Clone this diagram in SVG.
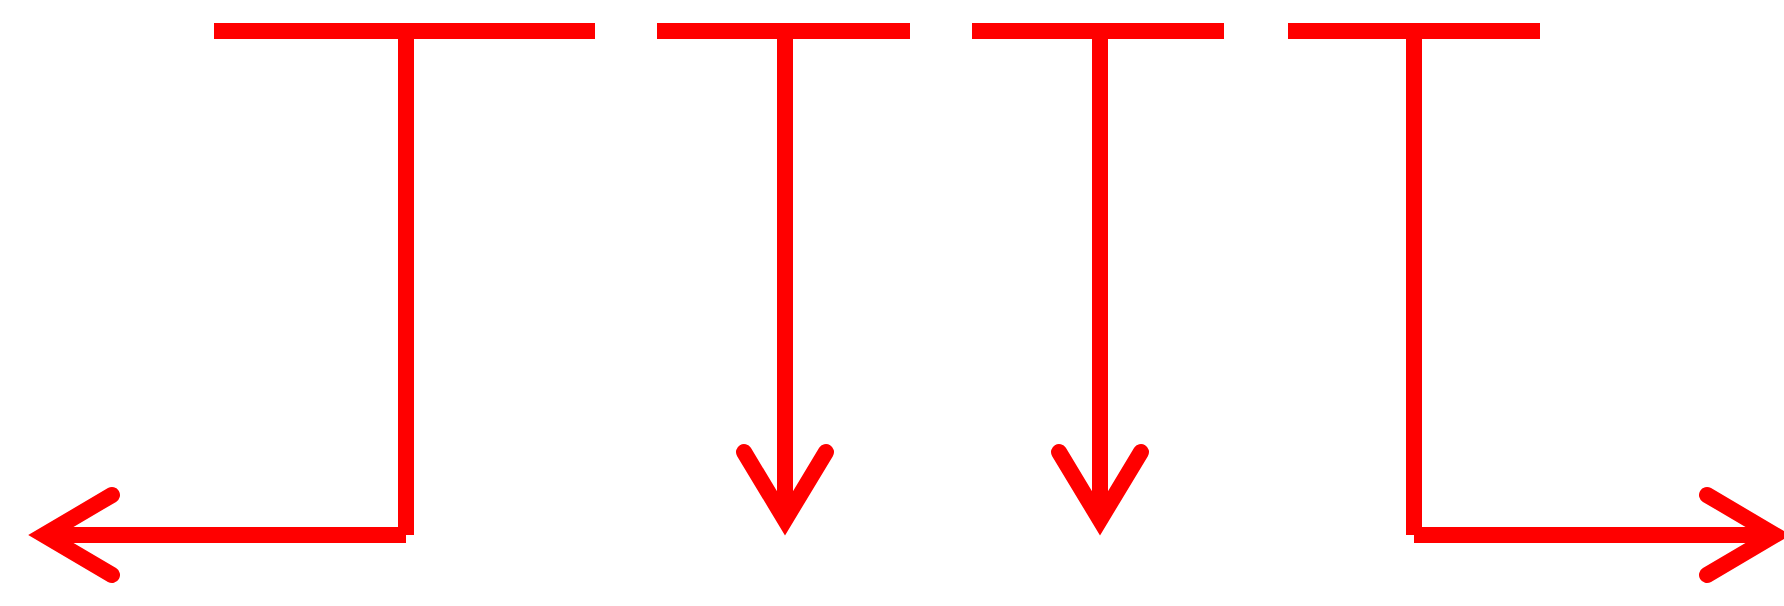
<svg xmlns="http://www.w3.org/2000/svg" width="1784" height="606" viewBox="0 0 1784 606">
  <style>
    .bar { stroke: #ff0000; stroke-width: 16; stroke-linecap: butt; fill: none; }
    .ln { stroke: #ff0000; stroke-width: 16; stroke-linecap: butt; fill: none; }
    .head { stroke: #ff0000; stroke-width: 16; stroke-linecap: round; stroke-linejoin: miter; stroke-miterlimit: 4; fill: none; }
  </style>
  <rect width="1784" height="606" fill="#ffffff"/>
  <g id="bar1"><line class="bar" x1="214" y1="31" x2="595" y2="31"/></g>
  <g id="bar2"><line class="bar" x1="657" y1="31" x2="910" y2="31"/></g>
  <g id="bar3"><line class="bar" x1="972" y1="31" x2="1224" y2="31"/></g>
  <g id="bar4"><line class="bar" x1="1288" y1="31" x2="1540" y2="31"/></g>
  <g id="connectors">
    <line class="ln" x1="406" y1="31" x2="406" y2="535"/>
    <line class="ln" x1="406" y1="535" x2="44" y2="535"/>
    <path class="head" d="M112 495 L44 535 L112 575"/>

    <line class="ln" x1="785" y1="31" x2="785" y2="520"/>
    <path class="head" d="M744 452 L785 520 L826 452"/>

    <line class="ln" x1="1100" y1="31" x2="1100" y2="520"/>
    <path class="head" d="M1059 452 L1100 520 L1141 452"/>

    <line class="ln" x1="1414" y1="31" x2="1414" y2="535"/>
    <line class="ln" x1="1414" y1="535" x2="1775" y2="535"/>
    <path class="head" d="M1707 495 L1775 535 L1707 575"/>
  </g>
</svg>
